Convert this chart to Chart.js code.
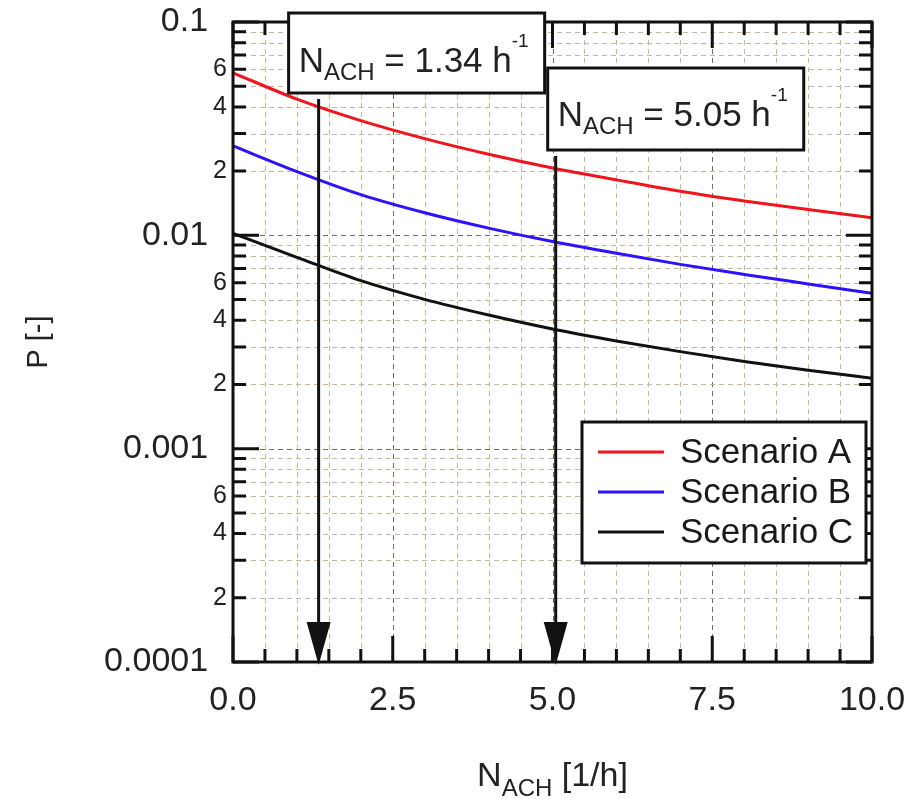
<!DOCTYPE html>
<html>
<head>
<meta charset="utf-8">
<script src="https://cdn.jsdelivr.net/npm/chart.js@4.4.1/dist/chart.umd.min.js"></script>
<style>
    html, body { margin: 0; padding: 0; background: #fff; }
    #wrap { width: 917px; height: 799px; }
</style>
</head>
<body>
<div id="wrap"><canvas id="pChart" width="917" height="799"></canvas></div>
<script>
// values
const xValues = [0, 1, 2, 3, 4, 5, 6, 7, 8, 9, 10];
const scenarioA = [0.0578, 0.0435, 0.0345, 0.0284, 0.0240, 0.0207, 0.0182, 0.0161, 0.0145, 0.0132, 0.0121];
const scenarioB = [0.02624, 0.0199, 0.01552, 0.01276, 0.01081, 0.00935, 0.00824, 0.00731, 0.00656, 0.00592, 0.00535];
const scenarioC = [0.01022, 0.00789, 0.00613, 0.00501, 0.00423, 0.00364, 0.0032, 0.00285, 0.00256, 0.00233, 0.00214];
const seriesNames = ["Scenario A", "Scenario B", "Scenario C"];

const xGridValues = [0, 0.5, 1, 1.5, 2, 2.5, 3, 3.5, 4, 4.5, 5, 5.5, 6, 6.5, 7, 7.5, 8, 8.5, 9, 9.5, 10];
const xLabelValues = [0, 2.5, 5, 7.5, 10];
const yDecades = [0.0001, 0.001, 0.01, 0.1];
const yMantissas = [1, 2, 3, 4, 5, 6, 7, 8, 9];
const yMinorLabels = [2, 4, 6];

const markerValues = [1.34, 5.05];
const markerTexts = ["1.34", "5.05"];

const FONT = '"Liberation Sans", Arial, Helvetica, sans-serif';
const colors = ["#f2141c", "#2c12ff", "#111111"];
const gridLight = "#c4b99f";
const gridDark = "#756c5a";

// tick positions on the log axis
const yTickValues = [];
yDecades.forEach((d) => {
    yMantissas.forEach((m) => {
        const v = +(m * d).toPrecision(6);
        if (v <= 0.1 + 1e-12) yTickValues.push(v);
    });
});

function mantissaOf(v) {
    const e = Math.floor(Math.log10(v) + 1e-9);
    return Math.round(v / Math.pow(10, e));
}

// text with sub / superscripts, returns width
function richText(ctx, parts, x, y, measureOnly) {
    let cx = x;
    parts.forEach((p) => {
        ctx.font = p.size + "px " + FONT;
        if (!measureOnly) ctx.fillText(p.t, cx, y + p.dy);
        cx += ctx.measureText(p.t).width;
    });
    return cx - x;
}

const boxLayout = [
    { dx: -30, top: 13, height: 80, base: 59 },
    { dx: -8, top: 68, height: 82, base: 58 },
];

const decorPlugin = {
    id: "decor",
    beforeDatasetsDraw(chart) {
        const { ctx, chartArea: a, scales } = chart;
        const x = scales.x, y = scales.y;
        ctx.save();
        ctx.lineWidth = 1;
        ctx.setLineDash([5, 4]);
        xGridValues.forEach((v) => {
            if (v <= 0 || v >= 10) return;
            const px = Math.round(x.getPixelForValue(v)) + 0.5;
            ctx.strokeStyle = xLabelValues.includes(v) ? gridDark : gridLight;
            ctx.beginPath();
            ctx.moveTo(px, a.top);
            ctx.lineTo(px, a.bottom);
            ctx.stroke();
        });
        yTickValues.forEach((v) => {
            if (v <= 0.0001 || v >= 0.1) return;
            const py = Math.round(y.getPixelForValue(v)) + 0.5;
            ctx.strokeStyle = mantissaOf(v) === 1 ? gridDark : gridLight;
            ctx.beginPath();
            ctx.moveTo(a.left, py);
            ctx.lineTo(a.right, py);
            ctx.stroke();
        });
        ctx.restore();
    },
    afterDatasetsDraw(chart) {
        const { ctx, chartArea: a, scales } = chart;
        const x = scales.x, y = scales.y;
        ctx.save();
        ctx.strokeStyle = "#111";
        ctx.fillStyle = "#111";
        ctx.lineWidth = 3;

        // inward ticks on all four sides
        ctx.beginPath();
        xGridValues.forEach((v) => {
            const px = x.getPixelForValue(v);
            const len = xLabelValues.includes(v) ? 26 : 13;
            ctx.moveTo(px, a.bottom);
            ctx.lineTo(px, a.bottom - len);
            ctx.moveTo(px, a.top);
            ctx.lineTo(px, a.top + len);
        });
        yTickValues.forEach((v) => {
            const py = y.getPixelForValue(v);
            const len = mantissaOf(v) === 1 ? 26 : 13;
            ctx.moveTo(a.left, py);
            ctx.lineTo(a.left + len, py);
            ctx.moveTo(a.right, py);
            ctx.lineTo(a.right - len, py);
        });
        ctx.stroke();
        ctx.strokeRect(a.left, a.top, a.right - a.left, a.bottom - a.top);

        // arrows and boxes
        markerValues.forEach((mv, i) => {
            const px = x.getPixelForValue(mv);
            const b = boxLayout[i];
            const parts = [
                { t: "N", size: 35, dy: 0 },
                { t: "ACH", size: 24, dy: 8 },
                { t: " = " + markerTexts[i] + " h", size: 35, dy: 0 },
                { t: "-1", size: 19, dy: -25 },
            ];
            const tw = richText(ctx, parts, 0, 0, true);
            const bx = px + b.dx;
            const bw = tw + 26;

            ctx.strokeStyle = "#111";
            ctx.fillStyle = "#111";
            ctx.lineWidth = 3;
            const top = b.top + b.height + 6;
            ctx.beginPath();
            ctx.moveTo(px, top);
            ctx.lineTo(px, a.bottom - 38);
            ctx.stroke();
            ctx.beginPath();
            ctx.moveTo(px - 12, a.bottom - 40);
            ctx.lineTo(px + 12, a.bottom - 40);
            ctx.lineTo(px, a.bottom + 3);
            ctx.closePath();
            ctx.fill();

            ctx.fillStyle = "#fff";
            ctx.fillRect(bx, b.top, bw, b.height);
            ctx.strokeRect(bx, b.top, bw, b.height);
            ctx.fillStyle = "#222";
            ctx.textAlign = "left";
            ctx.textBaseline = "alphabetic";
            richText(ctx, parts, bx + 10, b.top + b.base, false);
        });

        // legend
        const lx = a.right - 290, ly = a.top + 400, lw = 284, lh = 141;
        ctx.fillStyle = "#fff";
        ctx.fillRect(lx, ly, lw, lh);
        ctx.strokeStyle = "#111";
        ctx.strokeRect(lx, ly, lw, lh);
        ctx.font = "35px " + FONT;
        ctx.textBaseline = "middle";
        chart.data.datasets.forEach((ds, i) => {
            const ry = ly + 30 + i * 40;
            ctx.strokeStyle = ds.borderColor;
            ctx.beginPath();
            ctx.moveTo(lx + 16, ry);
            ctx.lineTo(lx + 82, ry);
            ctx.stroke();
            ctx.fillStyle = "#1a1a1a";
            ctx.fillText(ds.label, lx + 98, ry + 1);
        });
        ctx.restore();
    },
    afterDraw(chart) {
        const { ctx, chartArea: a } = chart;
        ctx.save();
        ctx.fillStyle = "#222";
        ctx.textBaseline = "alphabetic";
        const parts = [
            { t: "N", size: 34, dy: 0 },
            { t: "ACH", size: 24, dy: 10 },
            { t: " [1/h]", size: 34, dy: 0 },
        ];
        const w = richText(ctx, parts, 0, 0, true);
        richText(ctx, parts, (a.left + a.right) / 2 - w / 2, 786, false);
        ctx.restore();
    },
};

const ctx = document.getElementById("pChart").getContext("2d");
const pChart = new Chart(ctx, {
    type: "line",
    data: {
        datasets: [scenarioA, scenarioB, scenarioC].map((vals, i) => ({
            label: seriesNames[i],
            data: xValues.map((xv, j) => ({ x: xv, y: vals[j] })),
            borderColor: colors[i],
            borderWidth: 3,
            pointRadius: 0,
            fill: false,
            cubicInterpolationMode: "monotone",
        })),
    },
    options: {
        responsive: false,
        animation: false,
        devicePixelRatio: 1,
        layout: { padding: { left: 0, top: 22, right: 45, bottom: 0 } },
        plugins: {
            legend: { display: false },
            tooltip: { enabled: false },
        },
        scales: {
            x: {
                type: "linear",
                min: 0,
                max: 10,
                grid: { display: false, drawTicks: false },
                border: { display: false },
                afterBuildTicks: (scale) => {
                    scale.ticks = xGridValues.map((v) => ({ value: v }));
                },
                afterFit: (scale) => {
                    scale.height = 137;
                    scale.paddingLeft = 0;
                    scale.paddingRight = 0;
                },
                ticks: {
                    autoSkip: false,
                    maxRotation: 0,
                    padding: 18,
                    color: "#222",
                    font: { family: FONT, size: 34 },
                    callback: (v) => (xLabelValues.includes(v) ? v.toFixed(1) : ""),
                },
            },
            y: {
                type: "logarithmic",
                min: 0.0001,
                max: 0.1,
                grid: { display: false, drawTicks: false },
                border: { display: false },
                afterBuildTicks: (scale) => {
                    scale.ticks = yTickValues.map((v) => ({ value: v, major: mantissaOf(v) === 1 }));
                },
                afterFit: (scale) => {
                    scale.width = 233;
                    scale.paddingTop = 0;
                    scale.paddingBottom = 0;
                },
                title: {
                    display: true,
                    text: "P [-]",
                    color: "#222",
                    font: { family: FONT, size: 29 },
                    padding: { top: 22, bottom: 0 },
                },
                ticks: {
                    autoSkip: false,
                    padding: 6,
                    color: "#222",
                    font: (c) => ({
                        family: FONT,
                        size: c.tick && mantissaOf(c.tick.value) === 1 ? 34 : 25,
                    }),
                    callback: (v) => {
                        const m = mantissaOf(v);
                        if (m === 1) return String(+v.toPrecision(3)) + "  ";
                        if (yMinorLabels.includes(m)) return String(m);
                        return "";
                    },
                },
            },
        },
    },
    plugins: [decorPlugin],
});
</script>
</body>
</html>
